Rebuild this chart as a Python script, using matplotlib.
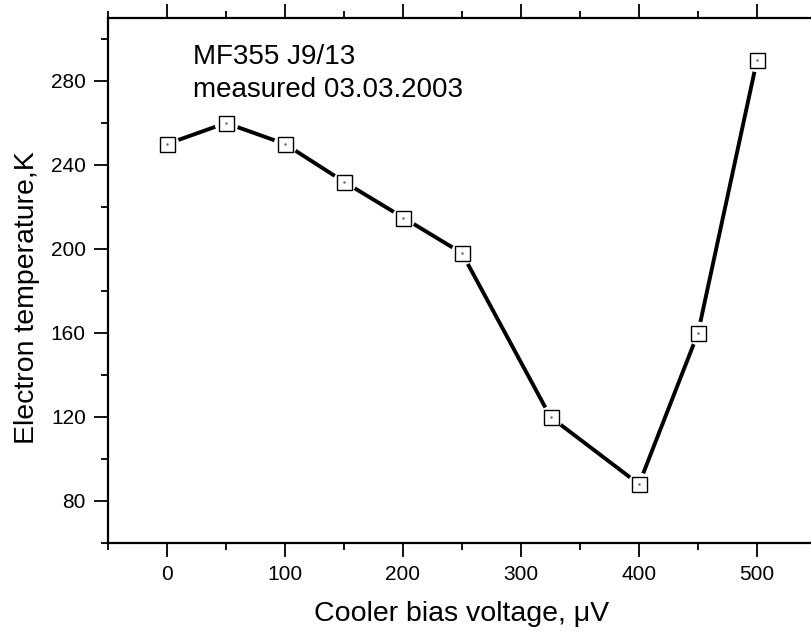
import matplotlib.pyplot as plt
from matplotlib.ticker import MultipleLocator

# datos
bias_uv = [0, 50, 100, 150, 200, 250, 325, 400, 450, 500]
temp_k = [250, 260, 250, 232, 215, 198, 120, 88, 160, 290]

sample_label = "MF355 J9/13"
date_label = "measured 03.03.2003"

plt.rcParams["font.family"] = ["Liberation Sans", "DejaVu Sans"]

fig = plt.figure(figsize=(8.12, 6.33), dpi=100)
# el eje derecho queda fuera del lienzo, como en la original
ax = fig.add_axes([108 / 812, 90 / 633, 708 / 812, 525 / 633])

ax.plot(bias_uv, temp_k, color="black", lw=2.8, solid_capstyle="butt", zorder=2)
# mascara blanca para dejar el hueco alrededor de cada punto
ax.plot(bias_uv, temp_k, ls="none", marker="o", ms=17, mfc="white", mec="none", zorder=3)
ax.plot(bias_uv, temp_k, ls="none", marker="s", ms=10.8, mfc="white", mec="black",
        mew=1.0, zorder=4)
ax.plot(bias_uv, temp_k, ls="none", marker=".", ms=1.5, color="0.4", zorder=5)

ax.set_xlim(-50, 550)
ax.set_ylim(60, 310)

ax.xaxis.set_major_locator(MultipleLocator(100))
ax.xaxis.set_minor_locator(MultipleLocator(50))
ax.yaxis.set_minor_locator(MultipleLocator(20))
ax.set_yticks(range(80, 281, 40))

ax.tick_params(which="both", direction="out", width=1.3, top=True, right=False,
               labelsize=15, colors="black")
ax.tick_params(which="major", length=10, pad=6)
ax.tick_params(which="minor", length=5)
for side in ["left", "bottom", "top"]:
    ax.spines[side].set_linewidth(1.6)
ax.spines["right"].set_visible(False)

ax.set_xlabel("Cooler bias voltage, μV", fontsize=20.5, labelpad=12)
ax.set_ylabel("Electron temperature,K", fontsize=20.5, labelpad=8)
ax.yaxis.label.set_y(0.467)

ax.text(0.12, 0.912, sample_label, transform=ax.transAxes, fontsize=20, va="baseline")
ax.text(0.12, 0.8495, date_label, transform=ax.transAxes, fontsize=20, va="baseline")

fig.savefig("out.png", dpi=100)
